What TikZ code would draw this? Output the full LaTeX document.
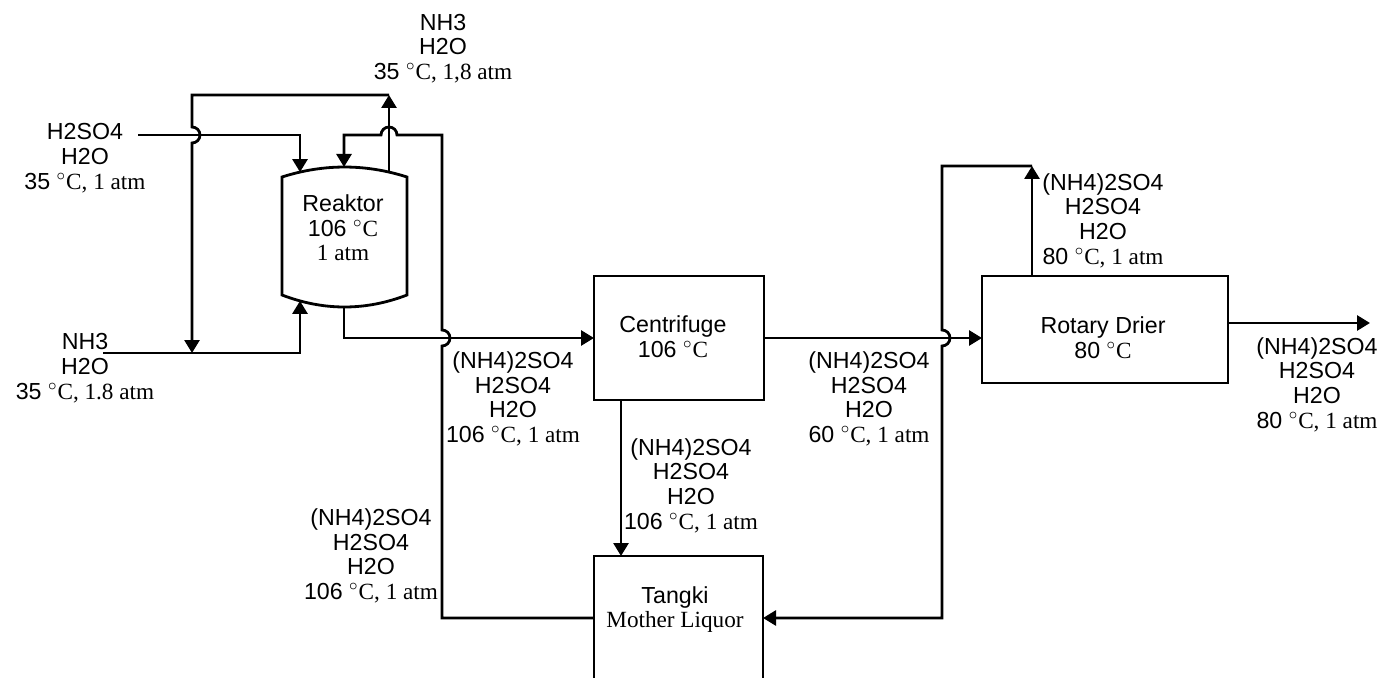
\documentclass[tikz,border=0pt]{standalone}
\usepackage{fontspec}
\setmainfont{Liberation Sans}
\newfontfamily\tmsfont{Liberation Serif}
\newcommand{\tnr}[1]{{\tmsfont #1}}
\newcommand{\dgr}{\ensuremath{^{\circ}}}
\usetikzlibrary{arrows.meta}
\begin{document}
\begin{tikzpicture}[x=0.5pt,y=-0.5pt,
  flow/.style={line width=1.4pt},
  arr/.style={flow,-{Triangle[length=6.5pt,width=7.5pt]}},
  box/.style={draw,line width=1.4pt,inner sep=0pt,outer sep=0pt},
  lbl/.style={align=center,font=\fontsize{11.6}{12.35}\selectfont,inner sep=0pt}]
\useasboundingbox (0,0) rectangle (1384,678);
\clip (0,0) rectangle (1384,678);
\fill[white] (0,0) rectangle (1384,678);

% equipment
\draw[flow] (282,177) .. controls (323.7,163.7) and (365.3,163.7) .. (407,177)
  -- (407,295) .. controls (365.3,311) and (323.7,311) .. (282,295) -- cycle;
\node[box,minimum width=85pt,minimum height=62pt] (centrifuge) at (679,338) {};
\node[box,minimum width=123pt,minimum height=53.5pt] (drier) at (1105,329.5) {};
\node[box,minimum width=84.5pt,minimum height=92pt] (tangki) at (678.5,648) {};

% reactor ports and junctions
\coordinate (rIn1) at (300,172.1);
\coordinate (rIn2) at (344,167);
\coordinate (rOut1) at (389,172.1);
\coordinate (rIn3) at (300,300.9);
\coordinate (rOut2) at (344,307);
\coordinate (c1) at (389,95);
\coordinate (j1) at (192,353);
\coordinate (f1) at (138,135);
\coordinate (f2) at (103,353);
\coordinate (tL) at (594,618);
\coordinate (tR) at (763,618);
\coordinate (d1) at (1032,166);
\coordinate (out) at (1370,323);
\coordinate (cb) at (621,0);

% streams
\draw[arr] (rOut1) -- (c1);
\draw[arr] (c1) -- (192,95) -- (192,127) arc[start angle=-90,end angle=90,radius=8] -- (j1);
\draw[arr] (f1) -- (f1 -| rIn1) -- (rIn1);
\draw[arr] (f2) -- (f2 -| rIn3) -- (rIn3);
\draw[arr] (tL) -- (442,618) -- (442,346) arc[start angle=90,end angle=-90,radius=8]
  -- (442,135) -- (397,135) arc[start angle=0,end angle=-180,radius=8] -- (344,135) -- (rIn2);
\draw[arr] (rOut2) -- (344,338) -- (centrifuge.west);
\draw[arr] (centrifuge.east) -- (drier.west |- centrifuge.east);
\draw[arr] (drier.east |- out) -- (out);
\draw[arr] (drier.north -| d1) -- (d1);
\draw[arr] (d1) -- (942,166) -- (942,330) arc[start angle=-90,end angle=90,radius=8] -- (942,618) -- (tR);
\draw[arr] (centrifuge.south -| cb) -- (tangki.north -| cb);

% texts
\node[lbl] (lnh3top) at (443,48.5) {NH3\\H2O\\35 \tnr{\dgr C, 1,8 atm}};
\node[lbl] (lh2so4) at (85,158) {H2SO4\\H2O\\35 \tnr{\dgr C, 1 atm}};
\node[lbl] (lnh3) at (85,368) {NH3\\H2O\\35 \tnr{\dgr C, 1.8 atm}};
\node[lbl] (lreak) at (343,228) {Reaktor\\106 \tnr{\dgr C}\\\tnr{1 atm}};
\node[lbl] (lrout) at (513,399) {(NH4)2SO4\\H2SO4\\H2O\\106 \tnr{\dgr C, 1 atm}};
\node[lbl] (lcent) at (673,336.5) {Centrifuge\\106 \tnr{\dgr C}};
\node[lbl] (lcout) at (869,399) {(NH4)2SO4\\H2SO4\\H2O\\60 \tnr{\dgr C, 1 atm}};
\node[lbl] (lcbot) at (691,485.5) {(NH4)2SO4\\H2SO4\\H2O\\106 \tnr{\dgr C, 1 atm}};
\node[lbl] (lrec) at (371,556) {(NH4)2SO4\\H2SO4\\H2O\\106 \tnr{\dgr C, 1 atm}};
\node[lbl] (ltank) at (675,609.5) {Tangki\\\tnr{Mother Liquor}};
\node[lbl] (ldrier) at (1103,337.5) {Rotary Drier\\80 \tnr{\dgr C}};
\node[lbl] (ldtop) at (1103,220.5) {(NH4)2SO4\\H2SO4\\H2O\\80 \tnr{\dgr C, 1 atm}};
\node[lbl] (ldout) at (1317,384.5) {(NH4)2SO4\\H2SO4\\H2O\\80 \tnr{\dgr C, 1 atm}};
\end{tikzpicture}
\end{document}
